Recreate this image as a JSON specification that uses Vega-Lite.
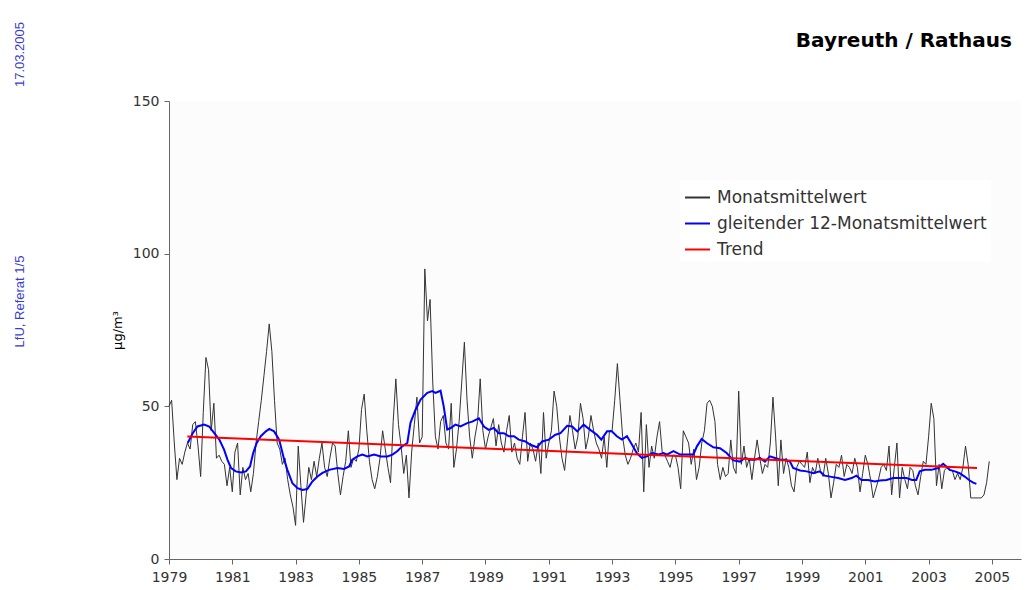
{
"$schema": "https://vega.github.io/schema/vega-lite/v6.json",
"width": 852, "height": 458,
"autosize": "none",
"padding": {"left": 169, "top": 101, "right": 10, "bottom": 31},
"background": "#ffffff",
"config": {"view": {"fill": "#fcfcfc", "stroke": null}, "font": "DejaVu Sans",
  "legend": {"orient": "none", "legendX": 511, "legendY": 79, "fillColor": "#ffffff", "padding": 4, "symbolType": "stroke", "symbolSize": 625, "symbolStrokeWidth": 2, "labelFont": "DejaVu Sans", "labelFontSize": 17, "labelColor": "#333333", "labelLimit": 400, "labelOffset": 6, "rowPadding": 4, "title": null}},
"title": {"text": "Bayreuth / Rathaus", "anchor": "end", "frame": "group", "font": "DejaVu Sans", "fontSize": 20, "fontWeight": "bold", "color": "#000000", "baseline": "alphabetic", "offset": -46, "dx": -9},
"datasets": {
"monthly": [
{"t":1979,"v":50},{"t":1979.083,"v":52},{"t":1979.167,"v":38},{"t":1979.25,"v":26},{"t":1979.333,"v":33},{"t":1979.417,"v":31},{"t":1979.5,"v":35},{"t":1979.583,"v":38},{"t":1979.667,"v":36},{"t":1979.75,"v":44},{"t":1979.833,"v":45},{"t":1979.917,"v":37},
{"t":1980,"v":27},{"t":1980.083,"v":48},{"t":1980.167,"v":66},{"t":1980.25,"v":62},{"t":1980.333,"v":42},{"t":1980.417,"v":51},{"t":1980.5,"v":33},{"t":1980.583,"v":34},{"t":1980.667,"v":32},{"t":1980.75,"v":31},{"t":1980.833,"v":24},{"t":1980.917,"v":30},
{"t":1981,"v":22},{"t":1981.083,"v":35},{"t":1981.167,"v":38},{"t":1981.25,"v":21},{"t":1981.333,"v":30},{"t":1981.417,"v":26},{"t":1981.5,"v":28},{"t":1981.583,"v":22},{"t":1981.667,"v":28},{"t":1981.75,"v":38},{"t":1981.833,"v":45},{"t":1981.917,"v":52},
{"t":1982,"v":60},{"t":1982.083,"v":68},{"t":1982.167,"v":77},{"t":1982.25,"v":68},{"t":1982.333,"v":52},{"t":1982.417,"v":38},{"t":1982.5,"v":36},{"t":1982.583,"v":31},{"t":1982.667,"v":33},{"t":1982.75,"v":26},{"t":1982.833,"v":21},{"t":1982.917,"v":17},
{"t":1983,"v":11},{"t":1983.083,"v":37},{"t":1983.167,"v":24},{"t":1983.25,"v":12},{"t":1983.333,"v":21},{"t":1983.417,"v":30},{"t":1983.5,"v":26},{"t":1983.583,"v":32},{"t":1983.667,"v":27},{"t":1983.75,"v":33},{"t":1983.833,"v":38},{"t":1983.917,"v":30},
{"t":1984,"v":27},{"t":1984.083,"v":33},{"t":1984.167,"v":38},{"t":1984.25,"v":37},{"t":1984.333,"v":28},{"t":1984.417,"v":21},{"t":1984.5,"v":27},{"t":1984.583,"v":32},{"t":1984.667,"v":42},{"t":1984.75,"v":30},{"t":1984.833,"v":33},{"t":1984.917,"v":32},
{"t":1985,"v":36},{"t":1985.083,"v":49},{"t":1985.167,"v":54},{"t":1985.25,"v":42},{"t":1985.333,"v":32},{"t":1985.417,"v":26},{"t":1985.5,"v":23},{"t":1985.583,"v":27},{"t":1985.667,"v":33},{"t":1985.75,"v":42},{"t":1985.833,"v":36},{"t":1985.917,"v":30},
{"t":1986,"v":25},{"t":1986.083,"v":45},{"t":1986.167,"v":59},{"t":1986.25,"v":44},{"t":1986.333,"v":37},{"t":1986.417,"v":28},{"t":1986.5,"v":34},{"t":1986.583,"v":20},{"t":1986.667,"v":35},{"t":1986.75,"v":44},{"t":1986.833,"v":53},{"t":1986.917,"v":38},
{"t":1987,"v":40},{"t":1987.083,"v":95},{"t":1987.167,"v":78},{"t":1987.25,"v":85},{"t":1987.333,"v":58},{"t":1987.417,"v":40},{"t":1987.5,"v":36},{"t":1987.583,"v":45},{"t":1987.667,"v":47},{"t":1987.75,"v":38},{"t":1987.833,"v":36},{"t":1987.917,"v":51},
{"t":1988,"v":30},{"t":1988.083,"v":36},{"t":1988.167,"v":45},{"t":1988.25,"v":58},{"t":1988.333,"v":71},{"t":1988.417,"v":52},{"t":1988.5,"v":40},{"t":1988.583,"v":33},{"t":1988.667,"v":40},{"t":1988.75,"v":45},{"t":1988.833,"v":59},{"t":1988.917,"v":42},
{"t":1989,"v":36},{"t":1989.083,"v":40},{"t":1989.167,"v":43},{"t":1989.25,"v":46},{"t":1989.333,"v":37},{"t":1989.417,"v":44},{"t":1989.5,"v":38},{"t":1989.583,"v":35},{"t":1989.667,"v":42},{"t":1989.75,"v":47},{"t":1989.833,"v":35},{"t":1989.917,"v":38},
{"t":1990,"v":33},{"t":1990.083,"v":31},{"t":1990.167,"v":40},{"t":1990.25,"v":48},{"t":1990.333,"v":32},{"t":1990.417,"v":38},{"t":1990.5,"v":36},{"t":1990.583,"v":32},{"t":1990.667,"v":38},{"t":1990.75,"v":28},{"t":1990.833,"v":48},{"t":1990.917,"v":33},
{"t":1991,"v":38},{"t":1991.083,"v":42},{"t":1991.167,"v":55},{"t":1991.25,"v":50},{"t":1991.333,"v":40},{"t":1991.417,"v":33},{"t":1991.5,"v":29},{"t":1991.583,"v":38},{"t":1991.667,"v":47},{"t":1991.75,"v":42},{"t":1991.833,"v":36},{"t":1991.917,"v":40},
{"t":1992,"v":51},{"t":1992.083,"v":46},{"t":1992.167,"v":36},{"t":1992.25,"v":40},{"t":1992.333,"v":47},{"t":1992.417,"v":42},{"t":1992.5,"v":38},{"t":1992.583,"v":36},{"t":1992.667,"v":33},{"t":1992.75,"v":40},{"t":1992.833,"v":30},{"t":1992.917,"v":42},
{"t":1993,"v":42},{"t":1993.083,"v":52},{"t":1993.167,"v":64},{"t":1993.25,"v":52},{"t":1993.333,"v":40},{"t":1993.417,"v":34},{"t":1993.5,"v":31},{"t":1993.583,"v":33},{"t":1993.667,"v":36},{"t":1993.75,"v":38},{"t":1993.833,"v":35},{"t":1993.917,"v":48},
{"t":1994,"v":22},{"t":1994.083,"v":44},{"t":1994.167,"v":30},{"t":1994.25,"v":37},{"t":1994.333,"v":33},{"t":1994.417,"v":40},{"t":1994.5,"v":45},{"t":1994.583,"v":35},{"t":1994.667,"v":34},{"t":1994.75,"v":32},{"t":1994.833,"v":30},{"t":1994.917,"v":34},
{"t":1995,"v":34},{"t":1995.083,"v":30},{"t":1995.167,"v":23},{"t":1995.25,"v":42},{"t":1995.333,"v":40},{"t":1995.417,"v":38},{"t":1995.5,"v":31},{"t":1995.583,"v":36},{"t":1995.667,"v":26},{"t":1995.75,"v":30},{"t":1995.833,"v":38},{"t":1995.917,"v":42},
{"t":1996,"v":51},{"t":1996.083,"v":52},{"t":1996.167,"v":50},{"t":1996.25,"v":45},{"t":1996.333,"v":31},{"t":1996.417,"v":26},{"t":1996.5,"v":30},{"t":1996.583,"v":27},{"t":1996.667,"v":28},{"t":1996.75,"v":39},{"t":1996.833,"v":30},{"t":1996.917,"v":28},
{"t":1997,"v":55},{"t":1997.083,"v":31},{"t":1997.167,"v":37},{"t":1997.25,"v":30},{"t":1997.333,"v":33},{"t":1997.417,"v":26},{"t":1997.5,"v":33},{"t":1997.583,"v":39},{"t":1997.667,"v":33},{"t":1997.75,"v":28},{"t":1997.833,"v":31},{"t":1997.917,"v":30},
{"t":1998,"v":38},{"t":1998.083,"v":53},{"t":1998.167,"v":40},{"t":1998.25,"v":24},{"t":1998.333,"v":39},{"t":1998.417,"v":28},{"t":1998.5,"v":33},{"t":1998.583,"v":30},{"t":1998.667,"v":24},{"t":1998.75,"v":22},{"t":1998.833,"v":30},{"t":1998.917,"v":32},
{"t":1999,"v":31},{"t":1999.083,"v":30},{"t":1999.167,"v":35},{"t":1999.25,"v":25},{"t":1999.333,"v":30},{"t":1999.417,"v":28},{"t":1999.5,"v":33},{"t":1999.583,"v":29},{"t":1999.667,"v":27},{"t":1999.75,"v":33},{"t":1999.833,"v":28},{"t":1999.917,"v":20},
{"t":2000,"v":25},{"t":2000.083,"v":31},{"t":2000.167,"v":30},{"t":2000.25,"v":34},{"t":2000.333,"v":27},{"t":2000.417,"v":31},{"t":2000.5,"v":30},{"t":2000.583,"v":28},{"t":2000.667,"v":33},{"t":2000.75,"v":30},{"t":2000.833,"v":22},{"t":2000.917,"v":28},
{"t":2001,"v":34},{"t":2001.083,"v":31},{"t":2001.167,"v":26},{"t":2001.25,"v":20},{"t":2001.333,"v":23},{"t":2001.417,"v":26},{"t":2001.5,"v":30},{"t":2001.583,"v":31},{"t":2001.667,"v":29},{"t":2001.75,"v":37},{"t":2001.833,"v":21},{"t":2001.917,"v":30},
{"t":2002,"v":38},{"t":2002.083,"v":20},{"t":2002.167,"v":30},{"t":2002.25,"v":26},{"t":2002.333,"v":23},{"t":2002.417,"v":30},{"t":2002.5,"v":29},{"t":2002.583,"v":24},{"t":2002.667,"v":21},{"t":2002.75,"v":27},{"t":2002.833,"v":32},{"t":2002.917,"v":31},
{"t":2003,"v":40},{"t":2003.083,"v":51},{"t":2003.167,"v":46},{"t":2003.25,"v":24},{"t":2003.333,"v":31},{"t":2003.417,"v":23},{"t":2003.5,"v":29},{"t":2003.583,"v":30},{"t":2003.667,"v":29},{"t":2003.75,"v":29},{"t":2003.833,"v":26},{"t":2003.917,"v":28},
{"t":2004,"v":26},{"t":2004.083,"v":30},{"t":2004.167,"v":37},{"t":2004.25,"v":31},{"t":2004.333,"v":20},{"t":2004.417,"v":20},{"t":2004.5,"v":20},{"t":2004.583,"v":20},{"t":2004.667,"v":20},{"t":2004.75,"v":21},{"t":2004.833,"v":25},{"t":2004.917,"v":32}
],
"avg": [
{"t":1979.59,"v":38.0},{"t":1979.75,"v":41.2},{"t":1979.9,"v":43.4},{"t":1980.11,"v":44.0},{"t":1980.27,"v":43.4},{"t":1980.43,"v":41.2},{"t":1980.59,"v":39.1},{"t":1980.74,"v":35.8},{"t":1980.85,"v":32.5},{"t":1980.96,"v":29.8},
{"t":1981.11,"v":28.7},{"t":1981.27,"v":28.3},{"t":1981.43,"v":28.7},{"t":1981.56,"v":30.3},{"t":1981.66,"v":34.7},{"t":1981.77,"v":38.0},{"t":1981.9,"v":40.2},{"t":1982.06,"v":41.8},{"t":1982.17,"v":42.6},{"t":1982.32,"v":41.8},
{"t":1982.48,"v":39.1},{"t":1982.64,"v":32.5},{"t":1982.74,"v":29.2},{"t":1982.9,"v":24.8},{"t":1983.06,"v":23.2},{"t":1983.22,"v":22.6},{"t":1983.37,"v":22.9},{"t":1983.53,"v":25.4},{"t":1983.69,"v":27.0},{"t":1983.85,"v":28.2},
{"t":1984.06,"v":29.2},{"t":1984.32,"v":29.8},{"t":1984.53,"v":29.5},{"t":1984.69,"v":30.3},{"t":1984.79,"v":32.5},{"t":1984.95,"v":33.6},{"t":1985.11,"v":34.2},{"t":1985.27,"v":33.6},{"t":1985.48,"v":34.2},{"t":1985.69,"v":33.6},
{"t":1985.9,"v":33.6},{"t":1986.06,"v":34.2},{"t":1986.21,"v":35.3},{"t":1986.37,"v":36.9},{"t":1986.53,"v":38.0},{"t":1986.63,"v":44.6},{"t":1986.79,"v":48.9},{"t":1986.95,"v":52.2},{"t":1987.16,"v":54.4},{"t":1987.32,"v":55.0},
{"t":1987.42,"v":54.4},{"t":1987.58,"v":55.1},{"t":1987.68,"v":50.0},{"t":1987.79,"v":42.4},{"t":1987.9,"v":42.9},{"t":1988.05,"v":44.0},{"t":1988.21,"v":43.4},{"t":1988.42,"v":44.5},{"t":1988.58,"v":45.0},{"t":1988.79,"v":46.1},
{"t":1988.95,"v":43.4},{"t":1989.1,"v":42.3},{"t":1989.26,"v":42.9},{"t":1989.42,"v":41.2},{"t":1989.58,"v":41.2},{"t":1989.74,"v":40.2},{"t":1989.9,"v":40.2},{"t":1990.05,"v":39.1},{"t":1990.26,"v":38.5},{"t":1990.42,"v":37.4},
{"t":1990.63,"v":36.6},{"t":1990.79,"v":38.5},{"t":1991.0,"v":39.1},{"t":1991.21,"v":40.7},{"t":1991.37,"v":41.2},{"t":1991.58,"v":43.6},{"t":1991.74,"v":43.4},{"t":1991.9,"v":41.8},{"t":1992.1,"v":44.0},{"t":1992.31,"v":42.3},
{"t":1992.52,"v":40.7},{"t":1992.66,"v":39.1},{"t":1992.84,"v":41.8},{"t":1992.99,"v":41.8},{"t":1993.15,"v":40.2},{"t":1993.31,"v":39.1},{"t":1993.47,"v":40.2},{"t":1993.63,"v":37.4},{"t":1993.78,"v":34.7},{"t":1993.94,"v":33.1},
{"t":1994.1,"v":33.6},{"t":1994.26,"v":34.7},{"t":1994.47,"v":34.2},{"t":1994.63,"v":34.7},{"t":1994.73,"v":34.2},{"t":1994.94,"v":35.3},{"t":1995.15,"v":34.2},{"t":1995.36,"v":34.2},{"t":1995.57,"v":34.2},{"t":1995.68,"v":36.9},
{"t":1995.83,"v":39.3},{"t":1995.99,"v":38.0},{"t":1996.2,"v":36.6},{"t":1996.41,"v":36.3},{"t":1996.62,"v":34.7},{"t":1996.83,"v":32.3},{"t":1997.04,"v":31.9},{"t":1997.2,"v":33.1},{"t":1997.36,"v":32.5},{"t":1997.51,"v":32.5},
{"t":1997.67,"v":33.1},{"t":1997.83,"v":31.9},{"t":1997.99,"v":33.6},{"t":1998.15,"v":33.1},{"t":1998.31,"v":32.5},{"t":1998.46,"v":32.5},{"t":1998.62,"v":31.9},{"t":1998.72,"v":29.8},{"t":1998.94,"v":29.0},{"t":1999.15,"v":28.7},
{"t":1999.36,"v":28.1},{"t":1999.56,"v":28.7},{"t":1999.72,"v":27.3},{"t":1999.93,"v":26.9},{"t":2000.14,"v":26.5},{"t":2000.36,"v":25.9},{"t":2000.57,"v":26.5},{"t":2000.72,"v":27.3},{"t":2000.88,"v":25.9},{"t":2001.09,"v":25.9},
{"t":2001.3,"v":25.4},{"t":2001.46,"v":25.7},{"t":2001.67,"v":25.9},{"t":2001.88,"v":26.5},{"t":2002.09,"v":26.5},{"t":2002.3,"v":26.5},{"t":2002.48,"v":25.9},{"t":2002.61,"v":25.9},{"t":2002.72,"v":28.7},{"t":2002.88,"v":29.2},
{"t":2003.09,"v":29.2},{"t":2003.3,"v":29.8},{"t":2003.46,"v":31.2},{"t":2003.56,"v":30.3},{"t":2003.67,"v":29.2},{"t":2003.83,"v":28.7},{"t":2003.98,"v":28.1},{"t":2004.14,"v":27.0},{"t":2004.3,"v":25.7},{"t":2004.41,"v":25.0},
{"t":2004.51,"v":24.6}
],
"trend": [{"t":1979.58,"v":40.1},{"t":2004.53,"v":29.8}]
},
"encoding": {
  "x": {"field": "t", "type": "quantitative", "scale": {"domain": [1979, 2005.92], "nice": false, "zero": false},
    "axis": {"values": [1979,1981,1983,1985,1987,1989,1991,1993,1995,1997,1999,2001,2003,2005], "format": "d", "grid": false, "tickSize": 5, "tickColor": "#666666", "domainColor": "#666666", "labelFont": "DejaVu Sans", "labelFontSize": 14, "labelColor": "#333333", "labelPadding": 6, "labelFlush": false, "labelOverlap": false,
      "title": "17.03.2005", "titleFont": "Liberation Sans", "titleFontSize": 13, "titleFontWeight": "normal", "titleColor": "#3b3bcf", "titleAngle": 270, "titleX": -150, "titleY": -505, "titleAlign": "center", "titleBaseline": "middle"}}
},
"layer": [
  {"data": {"name": "monthly"}, "mark": {"type": "line", "strokeWidth": 1},
   "encoding": {
     "y": {"field": "v", "type": "quantitative", "scale": {"domain": [0, 150], "nice": false},
       "axis": {"values": [0, 50, 100, 150], "grid": false, "tickSize": 5, "tickColor": "#666666", "domainColor": "#666666", "labelFont": "DejaVu Sans", "labelFontSize": 14, "labelColor": "#333333", "labelPadding": 5, "title": "µg/m³", "titleFont": "DejaVu Sans", "titleFontSize": 13, "titleFontWeight": "normal", "titleColor": "#000000", "titlePadding": 8}},
     "color": {"datum": "Monatsmittelwert", "type": "nominal", "scale": {"domain": ["Monatsmittelwert", "gleitender 12-Monatsmittelwert", "Trend"], "range": ["#333333", "#0000ff", "#ff0000"]}}
   }},
  {"data": {"name": "avg"}, "mark": {"type": "line", "strokeWidth": 2},
   "encoding": {
     "y": {"field": "v", "type": "quantitative", "scale": {"domain": [0, 150], "nice": false}, "axis": null},
     "color": {"datum": "gleitender 12-Monatsmittelwert", "type": "nominal", "scale": {"domain": ["Monatsmittelwert", "gleitender 12-Monatsmittelwert", "Trend"], "range": ["#333333", "#0000ff", "#ff0000"]}}
   }},
  {"data": {"name": "trend"}, "mark": {"type": "line", "strokeWidth": 2},
   "encoding": {
     "y": {"field": "v", "type": "quantitative", "scale": {"domain": [0, 150], "nice": false},
       "axis": {"orient": "right", "labels": false, "ticks": false, "domain": false, "grid": false, "title": "LfU, Referat 1/5", "titleFont": "Liberation Sans", "titleFontSize": 13, "titleFontWeight": "normal", "titleColor": "#3b3bcf", "titleAngle": 270, "titleX": -1002, "titleY": 200, "titleAlign": "center", "titleBaseline": "middle"}},
     "color": {"datum": "Trend", "type": "nominal", "scale": {"domain": ["Monatsmittelwert", "gleitender 12-Monatsmittelwert", "Trend"], "range": ["#333333", "#0000ff", "#ff0000"]}}
   }}
],
"resolve": {"axis": {"y": "independent"}}
}
